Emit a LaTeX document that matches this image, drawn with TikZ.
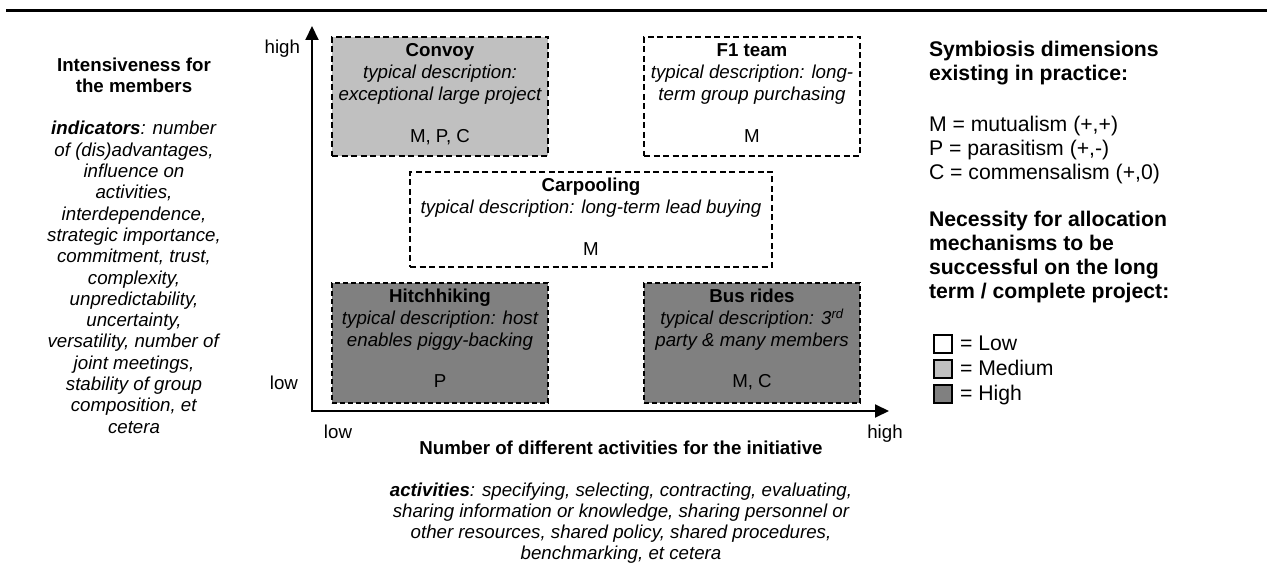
\documentclass[tikz,border=0pt]{standalone}
\usepackage{fontspec}
\setmainfont{Liberation Sans}
\usetikzlibrary{arrows.meta}
\definecolor{medgray}{HTML}{C0C0C0}
\definecolor{higray}{HTML}{808080}
\begin{document}
\begin{tikzpicture}[x=1pt,y=-1pt,
  every node/.style={inner sep=0pt, outer sep=0pt},
  ft/.style={font=\fontsize{18.7}{21.3}\selectfont},
  fr/.style={font=\fontsize{21.2}{24}\selectfont},
  ln/.style={ft, anchor=base},
  cbox/.style={draw, line width=1.5pt, dash pattern=on 6pt off 3.5pt},
  lowbox/.style={cbox, fill=white},
  medbox/.style={cbox, fill=medgray},
  highbox/.style={cbox, fill=higray, dash pattern=on 5pt off 3pt},
  legsq/.style={draw, line width=2pt, minimum width=18pt, minimum height=18pt},
  axis/.style={line width=2pt, {Triangle[width=13pt,length=14pt]}-{Triangle[width=13pt,length=14pt]}}
]
\useasboundingbox (0,0) rectangle (1267,577);
% top rule
\coordinate (ruleL) at (6,10.5);
\coordinate (ruleR) at (1267,10.5);
\draw[line width=2.6pt] (ruleL) -- (ruleR);

% axes
\coordinate (O) at (312,411);
\coordinate (Ytip) at (312,26);
\coordinate (Xtip) at (889,411);
\draw[axis] (Ytip) -- (O) -- (Xtip);
\node[ln, anchor=base east] (yhigh) at (300,54) {high};
\node[ln, anchor=base east] (ylow) at (298,389) {low};
\node[ln] (xlow) at (338,438) {low};
\node[ln] (xhigh) at (885,438) {high};

% boxes
\node[medbox, minimum width=216pt, minimum height=119pt] (convoy) at (440,96.5) {};
\node[lowbox, minimum width=216pt, minimum height=119pt] (f1) at (752,96.5) {};
\node[lowbox, minimum width=362pt, minimum height=95pt] (carpool) at (591,219.5) {};
\node[highbox, minimum width=216pt, minimum height=120pt] (hitch) at (440,343) {};
\node[highbox, minimum width=216pt, minimum height=120pt] (bus) at (752,343) {};

% Convoy text
\node[ln, font=\fontsize{18.7}{21.3}\selectfont\bfseries] (convoyT) at (440,57) {Convoy};
\node[ln, font=\fontsize{18.7}{21.3}\selectfont\itshape] (convoyD1) at (440,79) {typical description:};
\node[ln, font=\fontsize{18.7}{21.3}\selectfont\itshape] (convoyD2) at (440,100.5) {exceptional large project};
\node[ln] (convoyS) at (440,143) {M, P, C};

% F1 text
\node[ln, font=\fontsize{18.7}{21.3}\selectfont\bfseries] (f1T) at (752,57) {F1 team};
\node[ln, font=\fontsize{18.7}{21.3}\selectfont\itshape] (f1D1) at (752,79) {typical description: long-};
\node[ln, font=\fontsize{18.7}{21.3}\selectfont\itshape] (f1D2) at (752,100.5) {term group purchasing};
\node[ln] (f1S) at (752,143) {M};

% Carpooling text
\node[ln, font=\fontsize{18.7}{21.3}\selectfont\bfseries] (carT) at (591,192) {Carpooling};
\node[ln, font=\fontsize{18.7}{21.3}\selectfont\itshape] (carD1) at (591,213.5) {typical description: long-term lead buying};
\node[ln] (carS) at (591,256) {M};

% Hitchhiking text
\node[ln, font=\fontsize{18.7}{21.3}\selectfont\bfseries] (hitT) at (440,303) {Hitchhiking};
\node[ln, font=\fontsize{18.7}{21.3}\selectfont\itshape] (hitD1) at (440,325) {typical description: host};
\node[ln, font=\fontsize{18.7}{21.3}\selectfont\itshape] (hitD2) at (440,346.5) {enables piggy-backing};
\node[ln] (hitS) at (440,388) {P};

% Bus rides text
\node[ln, font=\fontsize{18.7}{21.3}\selectfont\bfseries] (busT) at (752,303) {Bus rides};
\node[ln, font=\fontsize{18.7}{21.3}\selectfont\itshape] (busD1) at (752,325) {typical description: 3\textsuperscript{rd}};
\node[ln, font=\fontsize{18.7}{21.3}\selectfont\itshape] (busD2) at (752,346.5) {party \& many members};
\node[ln] (busS) at (752,388) {M, C};

% bottom texts
\node[ln, font=\fontsize{18.7}{21.3}\selectfont\bfseries] (xtitle) at (621,454) {Number of different activities for the initiative};
% anchor base = baseline of last line (first line at 496)
\node[ln, align=center, font=\fontsize{18.7}{21.3}\selectfont\itshape] (acts) at (621,559.9) {\textbf{activities}: specifying, selecting, contracting, evaluating,\\ sharing information or knowledge, sharing personnel or\\ other resources, shared policy, shared procedures,\\ benchmarking, et cetera};

% left column (anchor base = last line; first line at 71)
\node[ln, align=center] (ytitle) at (134,433.1) {\textbf{Intensiveness for}\\ \textbf{the members}\\[21.3pt]
 \textit{\textbf{indicators}: number}\\ \textit{of (dis)advantages,}\\ \textit{influence on}\\ \textit{activities,}\\ \textit{interdependence,}\\ \textit{strategic importance,}\\ \textit{commitment, trust,}\\ \textit{complexity,}\\ \textit{unpredictability,}\\ \textit{uncertainty,}\\ \textit{versatility, number of}\\ \textit{joint meetings,}\\ \textit{stability of group}\\ \textit{composition, et}\\ \textit{cetera}};

% right column (anchor base = last line)
\node[fr, anchor=base west, align=left] (symT) at (929,81) {\textbf{Symbiosis dimensions}\\ \textbf{existing in practice:}};
\node[fr, anchor=base west, align=left] (symL) at (929,180) {M = mutualism (+,+)\\ P = parasitism (+,-)\\ C = commensalism (+,0)};
\node[fr, anchor=base west, align=left] (necT) at (929,299) {\textbf{Necessity for allocation}\\ \textbf{mechanisms to be}\\ \textbf{successful on the long}\\ \textbf{term / complete project:}};

\node[legsq, fill=white] (sqlow) at (942.5,344) {};
\node[legsq, fill=medgray] (sqmed) at (942.5,369) {};
\node[legsq, fill=higray] (sqhigh) at (942.5,394) {};
\node[fr, anchor=base west] (tlow) at (960,351) {= Low};
\node[fr, anchor=base west] (tmed) at (960,375.5) {= Medium};
\node[fr, anchor=base west] (thigh) at (960,400) {= High};
\end{tikzpicture}
\end{document}
